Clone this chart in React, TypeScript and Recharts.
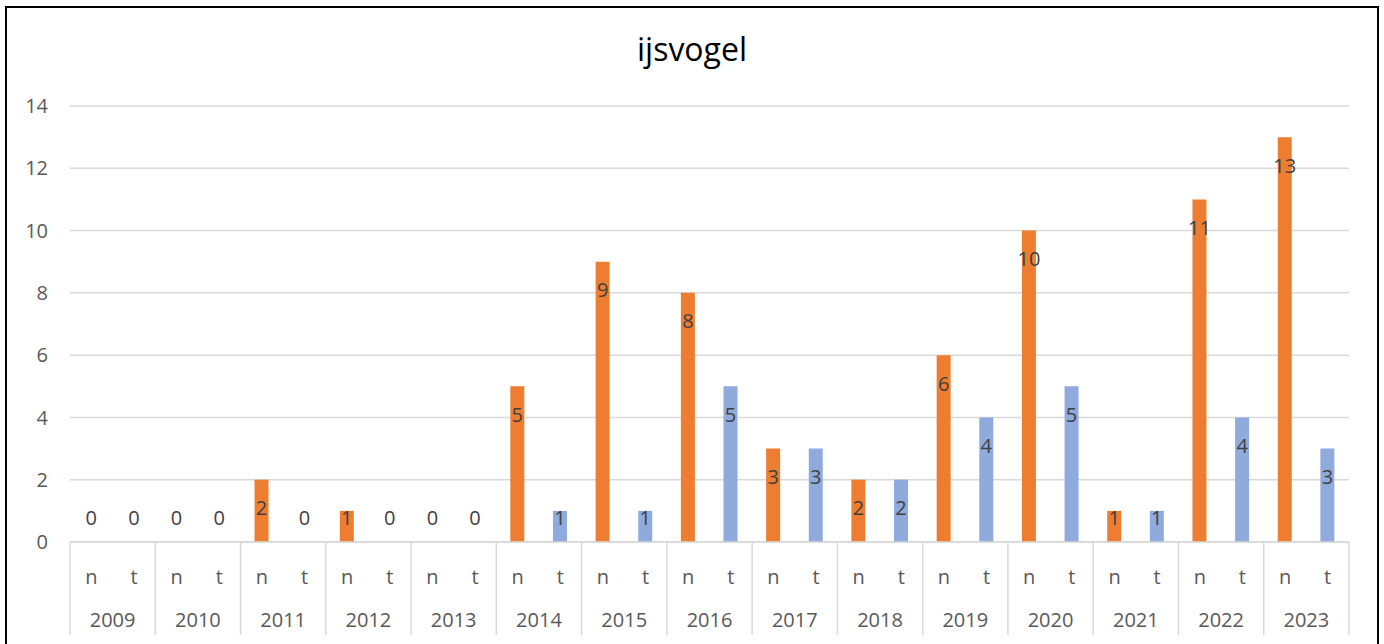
import React from 'react';
import { BarChart, Bar, XAxis, YAxis, CartesianGrid, Cell, LabelList } from 'recharts';

const years = ['2009', '2010', '2011', '2012', '2013', '2014', '2015', '2016', '2017', '2018', '2019', '2020', '2021', '2022', '2023'];
const subLabels = ['n', 't'];
const nValues = [0, 0, 2, 1, 0, 5, 9, 8, 3, 2, 6, 10, 1, 11, 13];
const tValues = [0, 0, 0, 0, 0, 1, 1, 5, 3, 2, 4, 5, 1, 4, 3];
const yTicks = [0, 2, 4, 6, 8, 10, 12, 14];

const rows = years.flatMap((year, i) => [
  { key: `${year}-n`, year, sub: subLabels[0], value: nValues[i] },
  { key: `${year}-t`, year, sub: subLabels[1], value: tValues[i] },
]);

const W = 1384;
const H = 644;
const MARGIN = { top: 106, right: 35, bottom: 10, left: 10 };
const Y_WIDTH = 60;
const SLOT = (W - MARGIN.left - MARGIN.right - Y_WIDTH) / rows.length;

const FONT = '"Open Sans", sans-serif';
const GRID = '#d9d9d9';
const TICK = '#595959';
const LABEL = '#404040';

function CategoryTick(props: any) {
  const { x, y, index } = props;
  const row = rows[index];
  if (!row) return null;
  const last = index === rows.length - 1;
  return (
    <g>
      {/* zero-height bars get no LabelList entry, so their "0" is drawn here */}
      {row.value === 0 && (
        <text x={x} y={y - 25} textAnchor="middle" dominantBaseline="central" fontSize={20} fill={LABEL} fontFamily={FONT}>
          0
        </text>
      )}
      <text x={x} y={y + 34} textAnchor="middle" dominantBaseline="central" fontSize={20} fill={TICK} fontFamily={FONT}>
        {row.sub}
      </text>
      {index % 2 === 0 && (
        <>
          <line x1={x - SLOT / 2} x2={x - SLOT / 2} y1={y} y2={y + 93} stroke={GRID} strokeWidth={1.5} />
          <text x={x + SLOT / 2} y={y + 77} textAnchor="middle" dominantBaseline="central" fontSize={20} fill={TICK} fontFamily={FONT}>
            {row.year}
          </text>
        </>
      )}
      {last && <line x1={x + SLOT / 2} x2={x + SLOT / 2} y1={y} y2={y + 93} stroke={GRID} strokeWidth={1.5} />}
    </g>
  );
}

function ValueLabel(props: any) {
  const { x, y, width, height, value } = props;
  if (!value) return null;
  const base = y + height;
  const cy = Math.min(y + 28, base - 25);
  return (
    <text x={x + width / 2} y={cy} textAnchor="middle" dominantBaseline="central" fontSize={20} fill={LABEL} fontFamily={FONT}>
      {value}
    </text>
  );
}

export default function App() {
  return (
    <div style={{ position: 'fixed', left: 0, top: 0, width: W, height: H, background: '#fff', overflow: 'hidden' }}>
      <div
        style={{
          position: 'absolute',
          left: 5,
          top: 6,
          width: 1370,
          height: 650,
          borderTop: '2px solid #000',
          borderLeft: '2px solid #000',
          borderRight: '2px solid #000',
        }}
      />
      <div
        style={{
          position: 'absolute',
          left: 0,
          width: W,
          top: 29,
          textAlign: 'center',
          fontFamily: FONT,
          fontSize: 32,
          lineHeight: '40px',
          color: '#000',
        }}
      >
        ijsvogel
      </div>
      <div style={{ position: 'absolute', left: 0, top: 0 }}>
        <BarChart width={W} height={H} data={rows} margin={MARGIN} barCategoryGap={0} style={{ fontFamily: FONT }}>
          <CartesianGrid vertical={false} stroke={GRID} strokeWidth={1.5} />
          <XAxis
            dataKey="key"
            interval={0}
            height={92}
            tickSize={0}
            tickMargin={0}
            tickLine={false}
            axisLine={{ stroke: GRID, strokeWidth: 1.5 }}
            tick={<CategoryTick />}
          />
          <YAxis
            width={Y_WIDTH}
            domain={[0, 14]}
            ticks={yTicks}
            axisLine={false}
            tickLine={false}
            tickSize={0}
            tickMargin={22}
            tick={{ fontSize: 20, fill: TICK, fontFamily: FONT }}
          />
          <Bar dataKey="value" barSize={14} isAnimationActive={false}>
            {rows.map((r) => (
              <Cell key={r.key} fill={r.sub === 'n' ? '#ed7d31' : '#8faadc'} />
            ))}
            <LabelList dataKey="value" content={<ValueLabel />} />
          </Bar>
        </BarChart>
      </div>
    </div>
  );
}
